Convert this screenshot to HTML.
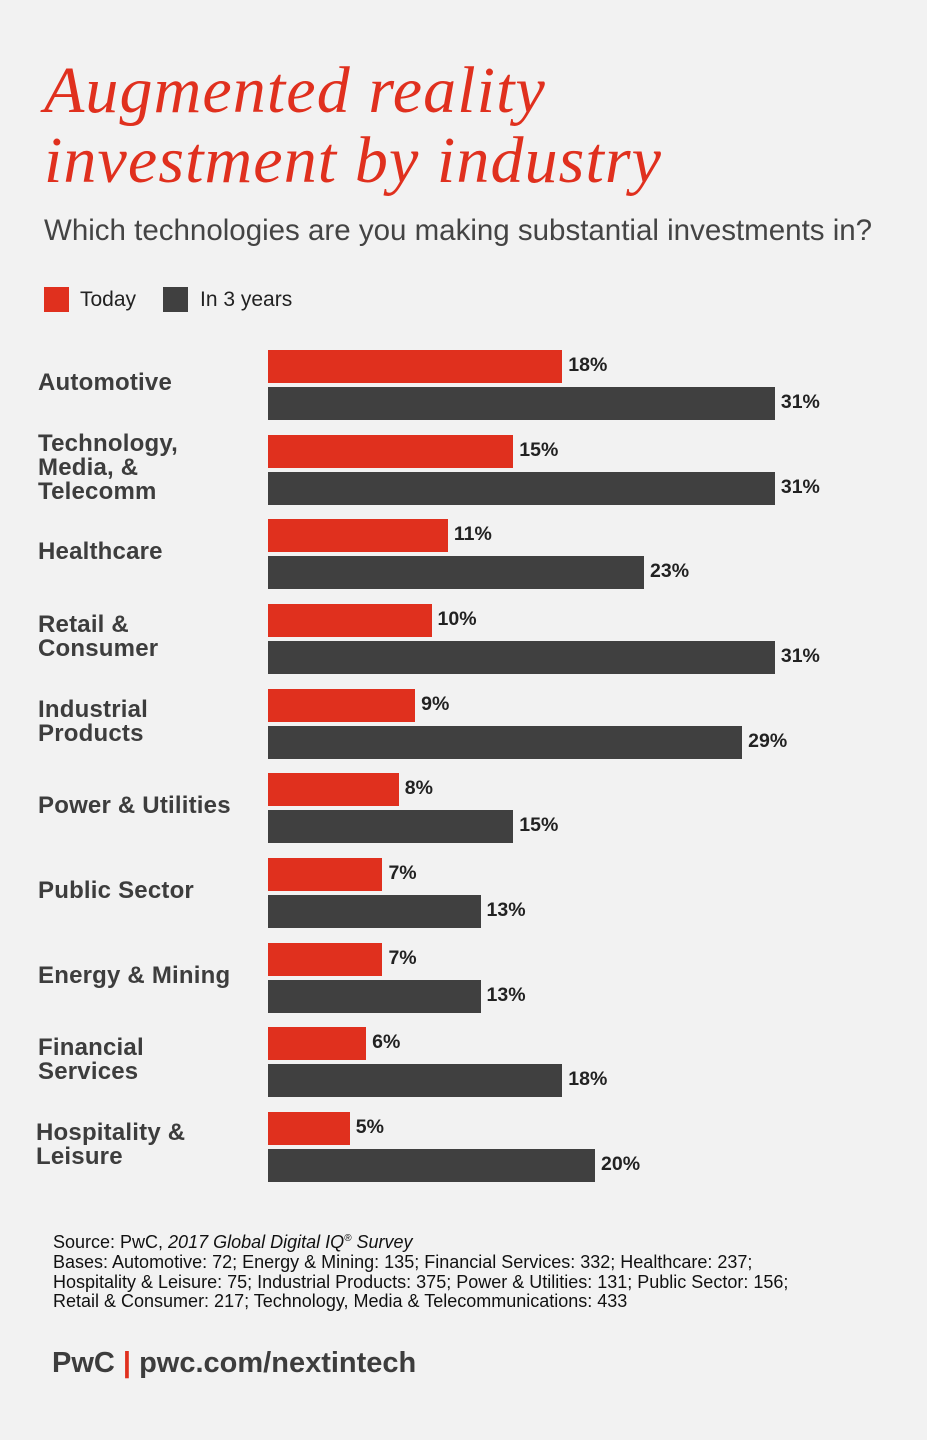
<!DOCTYPE html>
<html><head><style>
body{margin:0;width:927px;height:1440px;background:#f2f2f2;position:relative;overflow:hidden;font-family:"Liberation Sans",sans-serif}
.a{position:absolute}
.t{left:44px;font-family:"Liberation Serif",serif;font-style:italic;color:#e0301e;font-size:66px;line-height:70px;white-space:nowrap;letter-spacing:1.1px}
.lab{left:38px;font-weight:bold;font-size:24px;line-height:24px;color:#3d3d3d;letter-spacing:0.2px;white-space:nowrap}
.r{left:268px;height:33px;background:#e0301e}
.d{left:268px;height:33px;background:#404040}
.v{font-weight:bold;font-size:19.5px;color:#222;line-height:20px}
.f{left:53px;font-size:18px;color:#111;line-height:19.5px;white-space:nowrap}
</style></head><body>
<div class="a t" style="top:56px">Augmented reality</div>
<div class="a t" style="top:126px">investment by industry</div>
<div class="a" style="left:44px;top:214px;font-size:29.5px;color:#444;white-space:nowrap">Which technologies are you making substantial investments in?</div>
<div class="a" style="left:44px;top:287px;width:25px;height:25px;background:#e0301e"></div>
<div class="a" style="left:80px;top:288px;font-size:21px;color:#222">Today</div>
<div class="a" style="left:163px;top:287px;width:25px;height:25px;background:#404040"></div>
<div class="a" style="left:200px;top:288px;font-size:21px;color:#222">In 3 years</div>
<div id="c"></div>
<div class="a f" style="top:1229px">Source: PwC, <i>2017 Global Digital IQ<sup style="font-size:10px">®</sup> Survey</i></div>
<div class="a f" style="top:1253px">Bases: Automotive: 72; Energy &amp; Mining: 135; Financial Services: 332; Healthcare: 237;<br>Hospitality &amp; Leisure: 75; Industrial Products: 375; Power &amp; Utilities: 131; Public Sector: 156;<br>Retail &amp; Consumer: 217; Technology, Media &amp; Telecommunications: 433</div>
<div class="a" style="left:52px;top:1347px;font-size:29px;font-weight:bold;color:#3d3d3d">PwC <span style="color:#e0301e">|</span> pwc.com/nextintech</div>
<script>
var d=[["Automotive",18,31],["Technology,<br>Media, &amp;<br>Telecomm",15,31],["Healthcare",11,23],["Retail &amp;<br>Consumer",10,31],["Industrial<br>Products",9,29],["Power &amp; Utilities",8,15],["Public Sector",7,13],["Energy &amp; Mining",7,13],["Financial<br>Services",6,18],["Hospitality &amp;<br>Leisure",5,20]];
var h="",s=16.35;
d.forEach(function(e,i){var y=350+84.65*i;var n=e[0].split("<br>").length;var ly=y+33-n*12;
h+='<div class="a lab" style="top:'+ly+'px;'+(i==9?'left:36px':'')+'">'+e[0]+'</div>';
var w1=e[1]*s,w2=e[2]*s;
h+='<div class="a r" style="top:'+y+'px;width:'+w1+'px"></div>';
h+='<div class="a v" style="top:'+(y+5)+'px;left:'+(268+w1+6)+'px">'+e[1]+'%</div>';
h+='<div class="a d" style="top:'+(y+37)+'px;width:'+w2+'px"></div>';
h+='<div class="a v" style="top:'+(y+42)+'px;left:'+(268+w2+6)+'px">'+e[2]+'%</div>';});
document.getElementById("c").innerHTML=h;
</script>
</body></html>
